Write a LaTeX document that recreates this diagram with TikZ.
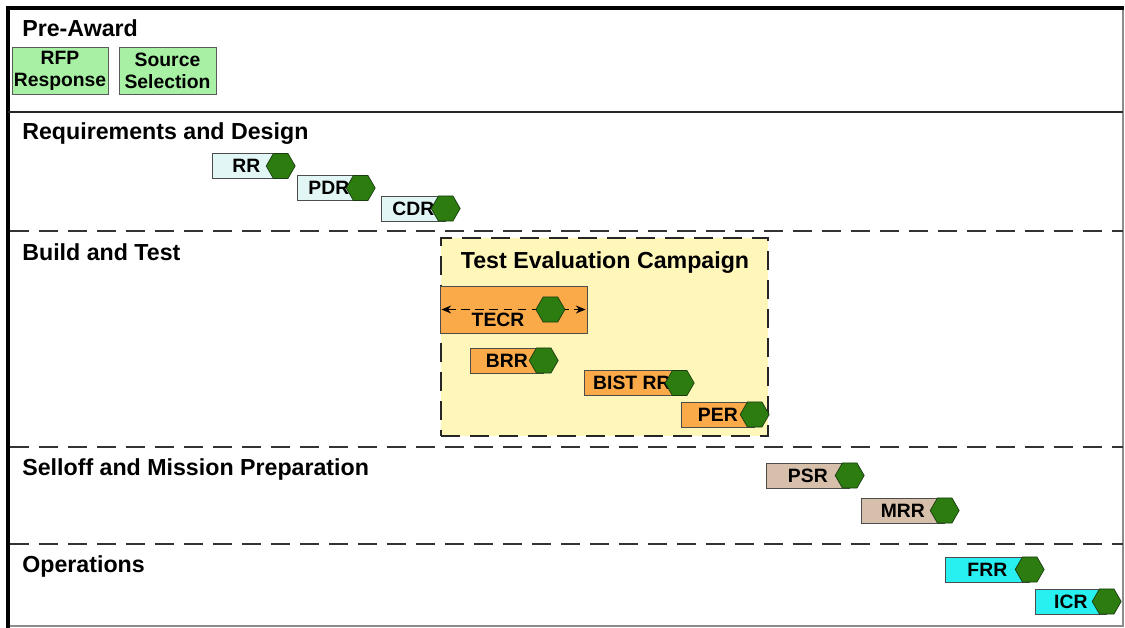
\documentclass[tikz,border=0pt]{standalone}
\usepackage{fontspec}
\setmainfont{Liberation Sans}
\usepackage{xcolor}
\usetikzlibrary{shapes.geometric, arrows.meta, positioning, calc}
\definecolor{awardGreen}{RGB}{168, 240, 164}
\definecolor{designBlue}{RGB}{226, 246, 246}
\definecolor{testOrange}{RGB}{250, 170, 72}
\definecolor{campaignYellow}{RGB}{255, 247, 186}
\definecolor{selloffTan}{RGB}{214, 192, 172}
\definecolor{opsCyan}{RGB}{40, 240, 240}
\definecolor{hexGreen}{RGB}{44, 124, 16}
\definecolor{hexDark}{RGB}{25, 60, 15}

\begin{document}
\begin{tikzpicture}[
    x=0.02cm, y=-0.02cm,
    phase/.style={anchor=base west, inner sep=0pt, font=\bfseries\fontsize{13.2}{15}\selectfont},
    awardbox/.style={rectangle, draw=black!65, fill=awardGreen, minimum height=0.94cm, inner sep=0pt, align=center, font=\bfseries\fontsize{11}{12.4}\selectfont},
    review/.style={rectangle, draw=black!70, fill=#1, minimum height=0.5cm, inner sep=0pt, anchor=west, font=\bfseries\fontsize{11}{12}\selectfont},
    hexa/.style={regular polygon, regular polygon sides=6, minimum size=0.58cm, inner sep=0pt, draw=hexDark, fill=hexGreen},
    divider/.style={line width=1.5pt, draw=black!80, dash pattern=on 11pt off 5.5pt},
    arrow/.style={{Stealth[length=5.5pt, width=4.5pt]}-{Stealth[length=5.5pt, width=4.5pt]}, line width=1pt, dash pattern=on 5pt off 3pt}
]
\useasboundingbox (0,0) rectangle (1125,628);

% Frame and lane separators
\draw[black!45, line width=0.6pt] (1123,8) -- (1123,626) -- (8,626);
\draw[line width=2pt] (8,628) -- (8,8) -- (1124,8);
\draw[line width=1.2pt, black!85] (8,112) -- (1123,112);
\draw[divider] (10,231) -- (1123,231);
\draw[divider] (10,447) -- (1123,447);
\draw[divider] (10,544) -- (1123,544);

% Pre-Award
\node[phase] (preaward) at (22,37) {Pre-Award};
\node[awardbox, minimum width=1.92cm] (rfp) at (60,70.5) {RFP\\Response};
\node[awardbox, minimum width=1.94cm] (source) at (167.5,70.5) {Source\\Selection};

% Requirements and Design
\node[phase] (design) at (22,140) {Requirements and Design};
\node[review=designBlue, minimum width=1.36cm] (rr) at (212,166) {RR\hspace{0.28cm}};
\node[hexa] (rrhex) at (rr.east) {};
\node[review=designBlue, minimum width=1.26cm] (pdr) at (297,188) {PDR\hspace{0.28cm}};
\node[hexa] (pdrhex) at (pdr.east) {};
\node[review=designBlue, minimum width=1.28cm] (cdr) at (381,208.5) {CDR\hspace{0.28cm}};
\node[hexa] (cdrhex) at (cdr.east) {};

% Build and Test
\node[phase] (build) at (22,260) {Build and Test};
\node[rectangle, draw=black!85, line width=1.5pt, dash pattern=on 11pt off 5.5pt, fill=campaignYellow, minimum width=6.54cm, minimum height=3.96cm] (campaign) at (604.5,337) {};
\node[anchor=base, inner sep=0pt, font=\bfseries\fontsize{13.2}{15}\selectfont] (campaigntitle) at (605,268) {Test Evaluation Campaign};
\node[rectangle, draw=black!70, fill=testOrange, minimum width=2.94cm, minimum height=0.94cm] (tecr) at (513.5,309.5) {};
\draw[arrow, shorten <=1pt, shorten >=1pt] (tecr.west) -- (tecr.east);
\node[hexa] (tecrhex) at ($(tecr.west)!0.75!(tecr.east)$) {};
\node[font=\bfseries\fontsize{11}{12}\selectfont, inner sep=0pt] (tecrlabel) at (498,320) {TECR};
\node[review=testOrange, minimum width=1.46cm] (brr) at (470,360.5) {BRR\hspace{0.28cm}};
\node[hexa] (brrhex) at (brr.east) {};
\node[review=testOrange, minimum width=1.9cm] (bistrr) at (584,383) {BIST RR\hspace{0.28cm}};
\node[hexa] (bistrrhex) at (bistrr.east) {};
\node[review=testOrange, minimum width=1.46cm] (per) at (681,414.5) {PER\hspace{0.28cm}};
\node[hexa] (perhex) at (per.east) {};

% Selloff and Mission Preparation
\node[phase] (selloff) at (22,475) {Selloff and Mission Preparation};
\node[review=selloffTan, minimum width=1.66cm] (psr) at (766,475.5) {PSR\hspace{0.28cm}};
\node[hexa] (psrhex) at (psr.east) {};
\node[review=selloffTan, minimum width=1.66cm] (mrr) at (861,510.5) {MRR\hspace{0.28cm}};
\node[hexa] (mrrhex) at (mrr.east) {};

% Operations
\node[phase] (operations) at (22,572) {Operations};
\node[review=opsCyan, minimum width=1.68cm] (frr) at (945,569.5) {FRR\hspace{0.28cm}};
\node[hexa] (frrhex) at (frr.east) {};
\node[review=opsCyan, minimum width=1.42cm] (icr) at (1035,601.5) {ICR\hspace{0.28cm}};
\node[hexa] (icrhex) at (icr.east) {};

\end{tikzpicture}
\end{document}
